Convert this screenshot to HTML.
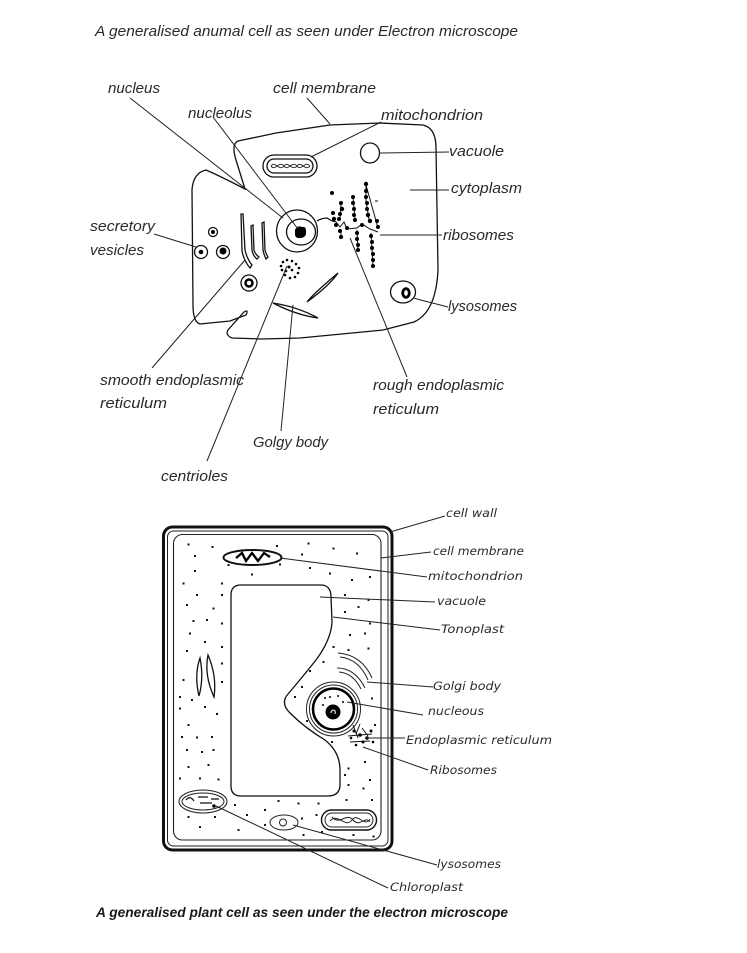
<!DOCTYPE html>
<html><head><meta charset="utf-8"><style>
html,body{margin:0;padding:0;background:#fff;}
svg{display:block;}
.a{font-family:"Liberation Sans",sans-serif;font-style:italic;font-size:14.5px;fill:#2a2a2a;}
.p{font-family:"DejaVu Sans","Liberation Sans",sans-serif;font-style:italic;font-size:11.5px;fill:#2a2a2a;}
.l{stroke:#222;stroke-width:1;fill:none;}
.o{stroke:#111;stroke-width:1.3;fill:none;}
</style></head><body>
<svg width="747" height="953" viewBox="0 0 747 953" xmlns="http://www.w3.org/2000/svg">
<rect width="747" height="953" fill="#fff"/>

<!-- ANIMAL CELL TITLE -->
<text class="a" x="95" y="36" font-size="15" textLength="423" lengthAdjust="spacingAndGlyphs">A generalised anumal cell as seen under Electron  microscope</text>

<!-- animal cell outline -->
<path class="o" d="M245,189 L236,160 Q231,144 238,141 L262,136 L276,133 L330,125 L380,123 L423,125 Q436,128 436,148 L438,270 Q436,312 414,322 L383,330 L300,338 L262,339 L232,338 Q225,335 228,330 L244,312 Q249,309 246,315 L230,321 L200,324 Q193,322 193,305 L192,190 Q193,173 206,170 Q220,176 245,189 Z"/>

<!-- mitochondrion -->
<rect x="263" y="155" width="54" height="22" rx="11" class="o" stroke-width="1.1"/>
<rect x="267" y="159" width="46" height="14" rx="7" class="o" stroke-width="1"/>
<path d="M271,166 C275,160 279,172 284,166 C288,160 292,172 297,166 C301,160 305,172 310,166" stroke="#222" stroke-width="0.9" fill="none"/>
<path d="M271,166 C275,172 279,160 284,166 C288,172 292,160 297,166 C301,172 305,160 310,166" stroke="#222" stroke-width="0.9" fill="none"/>

<!-- vacuole -->
<ellipse cx="370" cy="153" rx="9.5" ry="10" class="o" stroke-width="1.1"/>

<!-- nucleus -->
<ellipse cx="297" cy="231" rx="20.5" ry="21" class="o" stroke-width="1.1"/>
<ellipse cx="301" cy="232" rx="14.5" ry="13" class="o" stroke-width="1.1"/>
<path d="M295,230 Q297,225 302,227 Q306,226 306,231 Q307,237 301,238 Q295,239 295,234 Z" fill="#000"/>
<path d="M317,221 Q322,218 327,218 L332,221" class="o" stroke-width="1"/>

<!-- secretory vesicles -->
<circle cx="213" cy="232" r="4.5" class="o" stroke-width="1"/><circle cx="213" cy="232" r="2" fill="#000"/>
<circle cx="201" cy="252" r="6.5" class="o" stroke-width="1"/><circle cx="201" cy="252" r="2.3" fill="#000"/>
<circle cx="223" cy="252" r="6.5" class="o" stroke-width="1"/><circle cx="223" cy="251" r="3.5" fill="#000"/>
<circle cx="249" cy="283" r="8" class="o" stroke-width="1"/><circle cx="249" cy="283" r="3.5" stroke="#000" stroke-width="2.5" fill="none"/>

<!-- smooth ER -->
<path d="M241,214 L243,214 L245,250 Q247,259 252,265 L250,268 Q244,261 242,251 Z" class="o" stroke-width="1"/>
<path d="M251,226 L253,225 L254,250 Q255,254 259,257 L257,259 Q253,256 252,250 Z" class="o" stroke-width="1"/>
<path d="M262,223 L264,222 L265,250 Q266,254 268,257 L266,259 Q264,255 263,250 Z" class="o" stroke-width="1"/>

<!-- centrioles dots -->
<g fill="#000">
<circle cx="283" cy="262" r="1.3"/><circle cx="287" cy="260" r="1.3"/><circle cx="292" cy="261" r="1.3"/><circle cx="296" cy="264" r="1.3"/>
<circle cx="299" cy="268" r="1.3"/><circle cx="298" cy="273" r="1.3"/><circle cx="295" cy="277" r="1.3"/><circle cx="290" cy="278" r="1.3"/>
<circle cx="285" cy="275" r="1.3"/><circle cx="282" cy="270" r="1.3"/><circle cx="281" cy="266" r="1.3"/><circle cx="289" cy="267" r="1.5"/>
<circle cx="286" cy="271" r="1.3"/><circle cx="292" cy="270" r="1.3"/>
</g>

<!-- golgi lenses -->
<path d="M338,273 Q330,285 307,302 Q312,295 338,273 Z" class="o" stroke-width="1"/>
<path d="M273,303 Q298,307 318,318 Q296,315 273,303 Z" class="o" stroke-width="1"/>

<!-- lysosome right -->
<ellipse cx="403" cy="292" rx="12.5" ry="11" class="o" stroke-width="1.1"/>
<ellipse cx="406" cy="293" rx="3.3" ry="4.3" stroke="#000" stroke-width="2.8" fill="none"/>

<!-- rough ER -->
<g stroke="#111" stroke-width="1" fill="none">
<path d="M332,221 L336,222 L340,227 L344,222 L347,229 L357,228 L362,224 L370,229 L378,232"/>
<path d="M366,184 L366,200 L369,220"/>
<path d="M366,185 L378,228"/>
<path d="M375,201 L378,201"/>
<path d="M353,197 L355,219"/>
<path d="M341,203 L340,218"/>
<path d="M341,229 L341,238"/>
<path d="M357,230 L358,250"/>
<path d="M371,233 L373,266"/>
</g>
<g fill="#000">
<circle cx="366" cy="184" r="2.2"/><circle cx="366" cy="191" r="2"/><circle cx="366" cy="197" r="2"/><circle cx="367" cy="203" r="2"/><circle cx="367" cy="209" r="2"/><circle cx="368" cy="215" r="2.2"/><circle cx="370" cy="221" r="2.2"/>
<circle cx="377" cy="221" r="2"/><circle cx="378" cy="227" r="2"/>
<circle cx="353" cy="197" r="2"/><circle cx="353" cy="203" r="2"/><circle cx="354" cy="209" r="2"/><circle cx="354" cy="215" r="2"/><circle cx="355" cy="220" r="2"/>
<circle cx="341" cy="203" r="2"/><circle cx="342" cy="209" r="2.2"/><circle cx="340" cy="214" r="2"/><circle cx="339" cy="219" r="2"/>
<circle cx="332" cy="193" r="2"/>
<circle cx="333" cy="213" r="2"/><circle cx="334" cy="219" r="2.2"/><circle cx="336" cy="225" r="2"/>
<circle cx="340" cy="231" r="2"/><circle cx="341" cy="237" r="2"/>
<circle cx="357" cy="233" r="2"/><circle cx="357" cy="239" r="2"/><circle cx="358" cy="245" r="2"/><circle cx="358" cy="250" r="2"/>
<circle cx="371" cy="236" r="2"/><circle cx="372" cy="242" r="2"/><circle cx="372" cy="248" r="2"/><circle cx="373" cy="254" r="2"/><circle cx="373" cy="260" r="2"/><circle cx="373" cy="266" r="2"/>
<circle cx="362" cy="225" r="2"/><circle cx="347" cy="228" r="2"/>
</g>

<!-- animal leaders -->
<g class="l">
<path d="M130,98 L283,218"/>
<path d="M213,117 L298,229"/>
<path d="M307,98 L330,124"/>
<path d="M381,122 L311,157"/>
<path d="M379,153 L449,152"/>
<path d="M410,190 L449,190"/>
<path d="M380,235 L442,235"/>
<path d="M413,298 L448,307"/>
<path d="M154,234 L196,247"/>
<path d="M245,260 L152,368"/>
<path d="M287,266 L207,461"/>
<path d="M293,305 L281,431"/>
<path d="M350,238 L407,377"/>
</g>

<!-- animal labels -->
<text class="a" x="108" y="93" textLength="52" lengthAdjust="spacingAndGlyphs">nucleus</text>
<text class="a" x="273" y="93" textLength="103" lengthAdjust="spacingAndGlyphs">cell membrane</text>
<text class="a" x="188" y="118" textLength="64" lengthAdjust="spacingAndGlyphs">nucleolus</text>
<text class="a" x="381" y="120" textLength="102" lengthAdjust="spacingAndGlyphs">mitochondrion</text>
<text class="a" x="449" y="156" textLength="55" lengthAdjust="spacingAndGlyphs">vacuole</text>
<text class="a" x="451" y="193" textLength="71" lengthAdjust="spacingAndGlyphs">cytoplasm</text>
<text class="a" x="90" y="231" textLength="65" lengthAdjust="spacingAndGlyphs">secretory</text>
<text class="a" x="90" y="255" textLength="54" lengthAdjust="spacingAndGlyphs">vesicles</text>
<text class="a" x="443" y="240" textLength="71" lengthAdjust="spacingAndGlyphs">ribosomes</text>
<text class="a" x="448" y="311" textLength="69" lengthAdjust="spacingAndGlyphs">lysosomes</text>
<text class="a" x="100" y="385" textLength="144" lengthAdjust="spacingAndGlyphs">smooth endoplasmic</text>
<text class="a" x="100" y="408" textLength="67" lengthAdjust="spacingAndGlyphs">reticulum</text>
<text class="a" x="373" y="390" textLength="131" lengthAdjust="spacingAndGlyphs">rough endoplasmic</text>
<text class="a" x="373" y="414" textLength="66" lengthAdjust="spacingAndGlyphs">reticulum</text>
<text class="a" x="253" y="447" textLength="75" lengthAdjust="spacingAndGlyphs">Golgy body</text>
<text class="a" x="161" y="481" textLength="67" lengthAdjust="spacingAndGlyphs">centrioles</text>

<!-- PLANT CELL -->
<rect x="163.5" y="527" width="228.5" height="323" rx="9" stroke="#111" stroke-width="3" fill="none"/>
<rect x="167.5" y="531" width="220.5" height="315" rx="6" stroke="#222" stroke-width="1" fill="none"/>
<rect x="173.5" y="534.5" width="207.5" height="305.5" rx="9" stroke="#222" stroke-width="1.1" fill="none"/>

<!-- vacuole -->
<path class="o" stroke-width="1.1" d="M241,585 L322,585 Q331,586 331,597 L332,622 Q331,640 316,660 Q300,680 288,694 Q280,703 290,713 Q305,728 325,740 Q340,752 340,770 L340,786 Q339,796 328,796 L241,796 Q231,796 231,786 L231,595 Q231,585 241,585 Z"/>

<!-- top mitochondrion -->
<ellipse cx="252.5" cy="557.5" rx="29" ry="7.5" stroke="#111" stroke-width="2" fill="none"/>
<path d="M236,558 L242,553 L246,561 L252,553 L258,561 L264,553 L270,557" stroke="#000" stroke-width="2.3" fill="none"/>

<!-- nucleus -->
<circle cx="333.5" cy="709" r="27" stroke="#222" stroke-width="1" fill="none"/>
<circle cx="333.5" cy="709" r="24" stroke="#222" stroke-width="1" fill="none"/>
<circle cx="333.5" cy="709" r="20.5" stroke="#000" stroke-width="2.6" fill="none"/>
<circle cx="333" cy="712" r="7.5" fill="#000"/>
<path d="M331,713 Q331,710 334,710 Q336,711 335,714" stroke="#fff" stroke-width="1" fill="none"/>
<g fill="#000"><circle cx="325" cy="698" r="1"/><circle cx="330" cy="697" r="1"/><circle cx="338" cy="696" r="1"/><circle cx="343" cy="702" r="1"/><circle cx="323" cy="705" r="1"/></g>

<!-- golgi -->
<g stroke="#222" stroke-width="1" fill="none">
<path d="M338,653 Q362,655 372,678"/><path d="M340,657 Q359,659 368,680"/>
<path d="M337,668 Q355,668 365,688"/><path d="M339,672 Q353,673 361,689"/>
</g>

<!-- ER / ribosomes -->
<g stroke="#111" stroke-width="1" fill="none">
<path d="M348,736 L372,734"/><path d="M350,742 L370,741"/><path d="M353,725 L358,738"/><path d="M360,724 L356,734"/><path d="M362,728 L368,736"/>
</g>
<g fill="#000"><circle cx="360" cy="735" r="1.8"/><circle cx="367" cy="738" r="1.8"/><circle cx="354" cy="731" r="1.5"/><circle cx="371" cy="731" r="1.5"/><circle cx="363" cy="742" r="1.5"/><circle cx="356" cy="745" r="1.3"/><circle cx="373" cy="742" r="1.3"/><circle cx="351" cy="738" r="1.3"/></g>

<!-- left lenses -->
<path d="M200,658 Q194,675 199,696 Q204,678 200,658 Z" class="o" stroke-width="1"/>
<path d="M208,655 Q204,675 214,697 Q217,676 208,655 Z" class="o" stroke-width="1"/>

<!-- chloroplast -->
<ellipse cx="203" cy="801.5" rx="24" ry="11.5" stroke="#222" stroke-width="1" fill="none"/>
<ellipse cx="203" cy="801.5" rx="21" ry="8.5" stroke="#222" stroke-width="1" fill="none"/>
<path d="M186,800 Q190,795 194,801 M198,797 L208,797 M200,803 L212,803 M211,799 L219,799" stroke="#111" stroke-width="1.2" fill="none"/>
<circle cx="214" cy="806" r="1.8" fill="#000"/>

<!-- lysosome -->
<ellipse cx="284" cy="822.5" rx="14" ry="7.5" stroke="#222" stroke-width="1" fill="none"/>
<circle cx="283" cy="822.5" r="3.5" stroke="#222" stroke-width="1" fill="none"/>

<!-- bottom mitochondrion -->
<rect x="321.5" y="810" width="55" height="20" rx="10" stroke="#111" stroke-width="1.4" fill="none"/>
<rect x="325" y="813" width="48" height="14" rx="7" stroke="#222" stroke-width="1" fill="none"/>
<path d="M330,821 C338,812 345,829 352,820 C358,812 364,828 370,819" stroke="#222" stroke-width="1" fill="none"/>
<path d="M332,817 C340,826 346,812 353,820 C360,828 365,815 370,822" stroke="#222" stroke-width="1" fill="none"/>

<!-- cytoplasm dots -->
<g fill="#111">
<rect x="187.5" y="543.5" width="2" height="2"/><rect x="211.5" y="546" width="2" height="2"/><rect x="276" y="545" width="2" height="2"/><rect x="307.5" y="542.5" width="2" height="2"/><rect x="332.5" y="547.5" width="2" height="2"/><rect x="356" y="552.5" width="2" height="2"/>
<rect x="194" y="555" width="2" height="2"/><rect x="227.5" y="564" width="2" height="2"/><rect x="279" y="563.5" width="2" height="2"/><rect x="301" y="553.5" width="2" height="2"/><rect x="309" y="567" width="2" height="2"/><rect x="329" y="572.5" width="2" height="2"/>
<rect x="351" y="579" width="2" height="2"/><rect x="369" y="576" width="2" height="2"/><rect x="194" y="570" width="2" height="2"/><rect x="251" y="573.5" width="2" height="2"/><rect x="182.5" y="582.5" width="2" height="2"/><rect x="221" y="582.5" width="2" height="2"/>
<rect x="196" y="594" width="2" height="2"/><rect x="221" y="594" width="2" height="2"/><rect x="344" y="594" width="2" height="2"/><rect x="367.5" y="599" width="2" height="2"/><rect x="186" y="604" width="2" height="2"/><rect x="212.5" y="607.5" width="2" height="2"/>
<rect x="344" y="611" width="2" height="2"/><rect x="357.5" y="606" width="2" height="2"/><rect x="192.5" y="620" width="2" height="2"/><rect x="206" y="619" width="2" height="2"/><rect x="221" y="622.5" width="2" height="2"/><rect x="369" y="622.5" width="2" height="2"/>
<rect x="349" y="634" width="2" height="2"/><rect x="364" y="632.5" width="2" height="2"/><rect x="189" y="632.5" width="2" height="2"/><rect x="204" y="641" width="2" height="2"/><rect x="221" y="646" width="2" height="2"/><rect x="186" y="650" width="2" height="2"/>
<rect x="332.5" y="646" width="2" height="2"/><rect x="347.5" y="649" width="2" height="2"/><rect x="367.5" y="647.5" width="2" height="2"/><rect x="322.5" y="661" width="2" height="2"/><rect x="221" y="662.5" width="2" height="2"/><rect x="309" y="670" width="2" height="2"/>
<rect x="182.5" y="679" width="2" height="2"/><rect x="221" y="681" width="2" height="2"/><rect x="301" y="686" width="2" height="2"/>
<rect x="179" y="696" width="2" height="2"/><rect x="191" y="699" width="2" height="2"/><rect x="204" y="706" width="2" height="2"/><rect x="216" y="713" width="2" height="2"/><rect x="179" y="707.5" width="2" height="2"/><rect x="187.5" y="724" width="2" height="2"/>
<rect x="294" y="696" width="2" height="2"/><rect x="371" y="697.5" width="2" height="2"/><rect x="306" y="720" width="2" height="2"/><rect x="331" y="741" width="2" height="2"/><rect x="374" y="724" width="2" height="2"/>
<rect x="181" y="736" width="2" height="2"/><rect x="196" y="736.5" width="2" height="2"/><rect x="211" y="736" width="2" height="2"/><rect x="186" y="749" width="2" height="2"/><rect x="201" y="751" width="2" height="2"/><rect x="212.5" y="749" width="2" height="2"/>
<rect x="187.5" y="766" width="2" height="2"/><rect x="207.5" y="764" width="2" height="2"/><rect x="364" y="761" width="2" height="2"/><rect x="347.5" y="767.5" width="2" height="2"/><rect x="344" y="774" width="2" height="2"/>
<rect x="179" y="777.5" width="2" height="2"/><rect x="199" y="777.5" width="2" height="2"/><rect x="217.5" y="778.5" width="2" height="2"/><rect x="369" y="779" width="2" height="2"/><rect x="347.5" y="784" width="2" height="2"/><rect x="362.5" y="787.5" width="2" height="2"/>
<rect x="345.5" y="799" width="2" height="2"/><rect x="371" y="799" width="2" height="2"/><rect x="234" y="804" width="2" height="2"/><rect x="277.5" y="800" width="2" height="2"/><rect x="297.5" y="802.5" width="2" height="2"/><rect x="317.5" y="802.5" width="2" height="2"/>
<rect x="246" y="814" width="2" height="2"/><rect x="264" y="809" width="2" height="2"/><rect x="301" y="817.5" width="2" height="2"/><rect x="315.5" y="814" width="2" height="2"/><rect x="187.5" y="816" width="2" height="2"/><rect x="214" y="816" width="2" height="2"/>
<rect x="199" y="826" width="2" height="2"/><rect x="237.5" y="829" width="2" height="2"/><rect x="264" y="824" width="2" height="2"/><rect x="302.5" y="834" width="2" height="2"/><rect x="321" y="831" width="2" height="2"/><rect x="352.5" y="834" width="2" height="2"/><rect x="372.5" y="835.5" width="2" height="2"/>
</g>

<!-- plant leaders -->
<g class="l">
<path d="M390,532 L445,516"/>
<path d="M381,558 L431,552"/>
<path d="M280,558 L427,577"/>
<path d="M320,597 L435,602"/>
<path d="M333,617 L440,630"/>
<path d="M367,682 L433,687"/>
<path d="M347,702 L423,715"/>
<path d="M367,738 L405,738"/>
<path d="M363,747 L428,770"/>
<path d="M293,825 L437,865"/>
<path d="M216,806 L388,888"/>
</g>

<!-- plant labels -->
<text class="p" x="446" y="517" textLength="51" lengthAdjust="spacingAndGlyphs">cell wall</text>
<text class="p" x="433" y="555" textLength="91" lengthAdjust="spacingAndGlyphs">cell membrane</text>
<text class="p" x="428" y="580" textLength="95" lengthAdjust="spacingAndGlyphs">mitochondrion</text>
<text class="p" x="437" y="605" textLength="49" lengthAdjust="spacingAndGlyphs">vacuole</text>
<text class="p" x="441" y="633" textLength="63" lengthAdjust="spacingAndGlyphs">Tonoplast</text>
<text class="p" x="433" y="690" textLength="68" lengthAdjust="spacingAndGlyphs">Golgi body</text>
<text class="p" x="428" y="715" textLength="56" lengthAdjust="spacingAndGlyphs">nucleous</text>
<text class="p" x="406" y="744" textLength="146" lengthAdjust="spacingAndGlyphs">Endoplasmic reticulum</text>
<text class="p" x="430" y="774" textLength="67" lengthAdjust="spacingAndGlyphs">Ribosomes</text>
<text class="p" x="437" y="868" textLength="64" lengthAdjust="spacingAndGlyphs">lysosomes</text>
<text class="p" x="390" y="891" textLength="73" lengthAdjust="spacingAndGlyphs">Chloroplast</text>

<!-- caption -->
<text x="96" y="917" font-family="Liberation Sans, sans-serif" font-style="italic" font-weight="bold" font-size="13.5" fill="#1a1a1a" textLength="412" lengthAdjust="spacingAndGlyphs">A generalised plant cell as seen under the electron microscope</text>
</svg>
</body></html>
